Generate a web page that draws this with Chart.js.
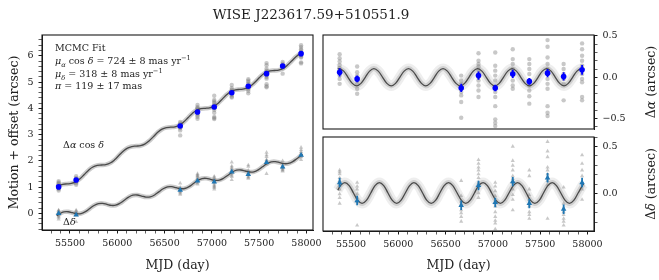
<!DOCTYPE html>
<html>
<head>
<meta charset="utf-8">
<script src="https://cdn.jsdelivr.net/npm/chart.js@4.4.0/dist/chart.umd.min.js"></script>
<style>
  html, body { margin: 0; padding: 0; background: #fff; }
  #wrap { position: relative; width: 659px; height: 280px; overflow: hidden;
          font-family: "DejaVu Serif", serif; color: #222; }
  canvas { position: absolute; left: 0; top: 0; }
  .txt { position: absolute; white-space: nowrap; line-height: 1; }
  .note { position: absolute; left: 55px; top: 42px; font-size: 9.5px; line-height: 12.8px; white-space: nowrap; }
  sub, sup { font-size: 70%; line-height: 0; }
  .rot { transform: translate(-50%, -50%) rotate(-90deg); font-size: 12.5px; }
</style>
</head>
<body>
<div id="wrap">
  <canvas id="motion" width="659" height="280"></canvas>
  <canvas id="resRa" width="659" height="280"></canvas>
  <canvas id="resDec" width="659" height="280"></canvas>

  <div class="txt" style="left:311px; top:8px; transform:translateX(-50%); font-size:13.5px;">WISE J223617.59+510551.9</div>
  <div class="note">
    MCMC Fit<br>
    <i>μ</i><sub><i>α</i></sub> cos <i>δ</i> = 724 ± 8 mas yr<sup>−1</sup><br>
    <i>μ</i><sub><i>δ</i></sub> = 318 ± 8 mas yr<sup>−1</sup><br>
    <i>π</i> = 119 ± 17 mas
  </div>
  <div class="txt" style="left:63px; top:140px; font-size:9.5px;">Δ<i>α</i> cos <i>δ</i></div>
  <div class="txt" style="left:63px; top:217px; font-size:9.5px;">Δ<i>δ</i></div>
  <div class="txt rot" style="left:651px; top:82px;">Δ<i>α</i> (arcsec)</div>
  <div class="txt rot" style="left:651px; top:184px;">Δ<i>δ</i> (arcsec)</div>
</div>

<script>
// visit epochs (MJD)
const epochs = [55380, 55565, 56665, 56848, 57025, 57210, 57385, 57578, 57748, 57943];

// mean position per visit, left panel (arcsec)
const raMotion  = [1.01, 1.27, 3.33, 3.86, 4.05, 4.59, 4.84, 5.32, 5.61, 6.08];
const decMotion = [0.00, -0.06, 0.89, 1.24, 1.20, 1.58, 1.49, 1.94, 1.77, 2.22];

// mean residual per visit after proper motion, right panels (arcsec)
const raResid  = [0.06, -0.02, -0.13, 0.02, -0.13, 0.04, -0.05, 0.05, 0.01, 0.09];
const decResid = [0.12, -0.07, -0.12, 0.09, -0.09, 0.13, -0.10, 0.17, -0.16, 0.12];
const raErr  = [0.05, 0.04, 0.05, 0.05, 0.04, 0.05, 0.04, 0.05, 0.05, 0.06];
const decErr = [0.05, 0.05, 0.05, 0.05, 0.05, 0.05, 0.05, 0.05, 0.05, 0.05];

// single exposures, residuals per visit
const raSingle = [
  [0.28, 0.23, 0.19, 0.15, 0.11, 0.08, 0.05, 0.02, -0.02, -0.08],
  [0.13, 0.06, 0.02, -0.04, -0.08, -0.14, -0.20],
  [0.02, -0.04, -0.08, -0.14, -0.18, -0.22, -0.30, -0.49],
  [0.29, 0.20, 0.16, 0.13, 0.09, 0.05, 0.00, -0.04, -0.10, -0.16, -0.24],
  [0.30, 0.14, 0.08, 0.02, -0.04, -0.12, -0.18, -0.24, -0.35, -0.51, -0.55, -0.59],
  [0.34, 0.22, 0.16, 0.10, 0.06, 0.02, -0.04, -0.10, -0.14],
  [0.22, 0.16, 0.10, 0.04, -0.04, -0.10, -0.16, -0.23, -0.32],
  [0.45, 0.37, 0.24, 0.16, 0.10, 0.06, -0.02, -0.08, -0.14, -0.35, -0.43, -0.47],
  [0.16, 0.10, 0.04, -0.02, -0.08, -0.28],
  [0.41, 0.34, 0.26, 0.20, 0.14, 0.09, 0.04, -0.02, -0.06, -0.24, -0.28]
];
const decSingle = [
  [0.25, 0.23, 0.21, 0.17, 0.14, 0.09, 0.05, 0.00, -0.04, -0.10],
  [0.12, 0.08, 0.05, 0.00, -0.04, -0.08, -0.33],
  [0.14, -0.02, -0.08, -0.11, -0.17, -0.20, -0.24, -0.29],
  [0.36, 0.32, 0.28, 0.25, 0.21, 0.17, 0.12, 0.07, 0.01, -0.04],
  [0.12, 0.08, 0.03, -0.02, -0.08, -0.13, -0.19, -0.24, -0.28, -0.31, -0.37],
  [0.50, 0.35, 0.30, 0.25, 0.19, 0.16, 0.12, 0.05, -0.01, -0.06, -0.17],
  [0.25, 0.19, 0.05, -0.01, -0.06, -0.13, -0.19, -0.22, -0.26],
  [0.55, 0.45, 0.39, 0.28, 0.25, 0.21, 0.17, 0.14, 0.10, -0.26],
  [0.07, -0.10, -0.15, -0.19, -0.22, -0.26, -0.29, -0.33],
  [0.41, 0.32, 0.25, 0.19, 0.12, 0.05, -0.06]
];

// best fit curve
const fitDaysRa = [55360, 55377, 55423, 55468, 55514, 55560, 55605, 55651, 55697, 55742, 55788, 55834,
  55879, 55925, 55971, 56016, 56062, 56108, 56153, 56199, 56245, 56290, 56336, 56382, 56427, 56473,
  56519, 56564, 56610, 56656, 56701, 56747, 56793, 56838, 56884, 56930, 56975, 57021, 57067, 57112,
  57158, 57203, 57249, 57295, 57341, 57386, 57432, 57478, 57523, 57569, 57615, 57660, 57706, 57752,
  57797, 57843, 57889, 57934, 57955];
const fitRaMotion = [1.011, 1.049, 1.108, 1.124, 1.140, 1.199, 1.319, 1.483, 1.647, 1.768, 1.827, 1.843,
  1.859, 1.918, 2.039, 2.203, 2.367, 2.487, 2.546, 2.562, 2.578, 2.637, 2.758, 2.922, 3.086, 3.207,
  3.266, 3.282, 3.297, 3.356, 3.477, 3.641, 3.805, 3.926, 3.985, 4.001, 4.017, 4.075, 4.196, 4.360,
  4.524, 4.645, 4.704, 4.720, 4.736, 4.795, 4.916, 5.079, 5.243, 5.364, 5.423, 5.439, 5.455, 5.514,
  5.635, 5.799, 5.963, 6.083, 6.116];
const fitRaResid = [0.100, 0.105, 0.074, 0.000, -0.074, -0.105, -0.074, 0.000, 0.074, 0.105, 0.074, 0.000,
  -0.074, -0.105, -0.074, 0.000, 0.074, 0.105, 0.074, 0.000, -0.074, -0.105, -0.074, 0.000, 0.074, 0.105,
  0.074, 0.000, -0.074, -0.105, -0.074, 0.000, 0.074, 0.105, 0.074, 0.000, -0.074, -0.105, -0.074, 0.000,
  0.074, 0.105, 0.074, 0.000, -0.074, -0.105, -0.074, 0.000, 0.074, 0.105, 0.074, 0.000, -0.074, -0.105,
  -0.074, 0.000, 0.074, 0.105, 0.098];

const fitDaysDec = [55360, 55389, 55435, 55481, 55526, 55572, 55617, 55663, 55709, 55754, 55800, 55846,
  55891, 55937, 55983, 56028, 56074, 56120, 56165, 56211, 56257, 56302, 56348, 56394, 56439, 56485,
  56531, 56576, 56622, 56668, 56713, 56759, 56805, 56850, 56896, 56942, 56987, 57033, 57079, 57124,
  57170, 57216, 57261, 57307, 57353, 57398, 57444, 57490, 57535, 57581, 57627, 57672, 57718, 57764,
  57809, 57855, 57901, 57946, 57960];
const fitDecMotion = [-0.087, -0.014, 0.058, 0.065, 0.027, -0.011, -0.003, 0.068, 0.186, 0.304, 0.375, 0.383,
  0.345, 0.306, 0.314, 0.386, 0.504, 0.621, 0.693, 0.701, 0.662, 0.624, 0.632, 0.703, 0.821, 0.939,
  1.011, 1.018, 0.980, 0.942, 0.949, 1.021, 1.139, 1.256, 1.328, 1.336, 1.298, 1.259, 1.267, 1.339,
  1.456, 1.574, 1.646, 1.653, 1.615, 1.577, 1.585, 1.656, 1.774, 1.892, 1.963, 1.971, 1.933, 1.894,
  1.902, 1.974, 2.092, 2.209, 2.236];
const fitDecResid = [0.040, 0.088, 0.120, 0.088, 0.010, -0.068, -0.100, -0.068, 0.010, 0.088, 0.120, 0.088,
  0.010, -0.068, -0.100, -0.068, 0.010, 0.088, 0.120, 0.088, 0.010, -0.068, -0.100, -0.068, 0.010, 0.088,
  0.120, 0.088, 0.010, -0.068, -0.100, -0.068, 0.010, 0.088, 0.120, 0.088, 0.010, -0.068, -0.100, -0.068,
  0.010, 0.088, 0.120, 0.088, 0.010, -0.068, -0.100, -0.068, 0.010, 0.088, 0.120, 0.088, 0.010, -0.068,
  -0.100, -0.068, 0.010, 0.088, 0.104];

// axis ranges
const mjdMin = 55204, mjdMax = 58069;
const motionMin = -0.63, motionMax = 6.79;
const raMin = -0.627, raMax = 0.512;
const decMin = -0.39, decMax = 0.60;

Chart.defaults.font.family = '"DejaVu Serif", serif';
Chart.defaults.color = '#222';

const INK = '#1a1a1a';
const GREY = 'rgba(125,125,125,0.42)';
const RA_BLUE = '#0000ff';
const DEC_BLUE = '#1f77b4';

// helpers ---------------------------------------------------------
function pairs(xs, ys) {
  return xs.map((x, i) => ({ x: x, y: ys[i] }));
}
// single exposures, optionally moved by the per visit shift (left panel)
function singles(table, shift) {
  const out = [];
  epochs.forEach((t, i) => {
    table[i].forEach(v => out.push({ x: t, y: v + (shift ? shift[i] : 0) }));
  });
  return out;
}
function errorBars(vals, errs) {
  const out = [];
  epochs.forEach((t, i) => {
    out.push({ x: t, y: vals[i] - errs[i] }, { x: t, y: vals[i] + errs[i] }, { x: t, y: null });
  });
  return out;
}
function curveSets(data, wide) {
  // soft grey band of posterior draws + dark best fit line
  const sets = [];
  if (wide) {
    sets.push({ type: 'line', data, pointRadius: 0, borderColor: 'rgba(150,150,150,0.16)', borderWidth: 10, tension: 0.4 });
    sets.push({ type: 'line', data, pointRadius: 0, borderColor: 'rgba(130,130,130,0.28)', borderWidth: 5, tension: 0.4 });
  } else {
    sets.push({ type: 'line', data, pointRadius: 0, borderColor: 'rgba(140,140,140,0.45)', borderWidth: 4.5, tension: 0.4 });
  }
  sets.push({ type: 'line', data, pointRadius: 0, borderColor: 'rgba(60,60,60,0.9)', borderWidth: 1.3, tension: 0.4 });
  return sets.reverse();
}
function markers(data, color, style, r) {
  return { data, showLine: false, pointStyle: style, pointRadius: r,
           pointBackgroundColor: color, pointBorderWidth: 0 };
}

const isWhole = (v, step) => Math.abs(v / step - Math.round(v / step)) < 1e-6;
const fmt1 = v => (v < -1e-9 ? '\u2212' : '') + Math.abs(v).toFixed(1);

function xAxis(show, height) {
  const ax = {
    type: 'linear', min: mjdMin, max: mjdMax, display: show,
    ticks: { stepSize: 100, includeBounds: false, autoSkip: false, maxRotation: 0, padding: 4,
             font: { size: 9.5 }, color: '#222',
             callback: v => (v % 500 === 0 ? String(v) : '') },
    grid: { drawOnChartArea: false, tickLength: 3.5, tickColor: INK,
            tickWidth: c => (c.tick && c.tick.value % 500 === 0 ? 1 : 0.7) },
    border: { color: INK, width: 1 },
    title: { display: true, text: 'MJD (day)', font: { size: 12.5 }, color: '#222', padding: { top: 0, bottom: 7 } }
  };
  if (height) ax.afterFit = s => { s.height = height; };
  return ax;
}
function yAxis(min, max, minor, major, side, width, labelFmt) {
  return {
    type: 'linear', min, max, position: side,
    afterFit: s => { s.width = width; },
    ticks: { stepSize: minor, includeBounds: false, autoSkip: false, padding: 5,
             font: { size: 9.5 }, color: '#222',
             callback: v => (isWhole(v, major) ? labelFmt(v) : '') },
    grid: { drawOnChartArea: false, tickLength: 3.5, tickColor: INK,
            tickWidth: c => (c.tick && isWhole(c.tick.value, major) ? 1 : 0.7) },
    border: { color: INK, width: 1 }
  };
}

const frame = {
  id: 'frame',
  afterDraw(chart) {
    const a = chart.chartArea, c = chart.ctx;
    c.save();
    c.strokeStyle = INK;
    c.lineWidth = 1.1;
    c.strokeRect(a.left, a.top, a.right - a.left, a.bottom - a.top);
    c.restore();
  }
};

function makeChart(id, datasets, scales, padding) {
  return new Chart(document.getElementById(id), {
    type: 'scatter',
    data: { datasets },
    options: {
      responsive: false, animation: false, events: [],
      layout: { padding },
      plugins: { legend: { display: false }, tooltip: { enabled: false } },
      scales
    },
    plugins: [frame]
  });
}

// shift that takes a residual back to the motion panel
const raShift = raMotion.map((v, i) => v - raResid[i]);
const decShift = decMotion.map((v, i) => v - decResid[i]);

// left panel: motion + offset
const leftY = yAxis(motionMin, motionMax, 0.2, 1, 'left', 42, v => String(Math.round(v)));
leftY.title = { display: true, text: 'Motion + offset (arcsec)', font: { size: 12.5 }, color: '#222', padding: { top: 7, bottom: 0 } };
makeChart('motion', [
  markers(pairs(epochs, raMotion), RA_BLUE, 'circle', 2.8),
  markers(pairs(epochs, decMotion), DEC_BLUE, 'triangle', 3.2),
  ...curveSets(pairs(fitDaysRa, fitRaMotion), false),
  ...curveSets(pairs(fitDaysDec, fitDecMotion), false),
  markers(singles(raSingle, raShift), GREY, 'circle', 2.2),
  markers(singles(decSingle, decShift), GREY, 'triangle', 2.4)
], { x: xAxis(true, 50), y: leftY }, { left: 0, top: 35, right: 346, bottom: 0 });

// top right: RA residuals
makeChart('resRa', [
  markers(pairs(epochs, raResid), RA_BLUE, 'circle', 2.8),
  { type: 'line', data: errorBars(raResid, raErr), spanGaps: false, pointRadius: 0, borderColor: RA_BLUE, borderWidth: 1.8, tension: 0 },
  ...curveSets(pairs(fitDaysRa, fitRaResid), true),
  markers(singles(raSingle), GREY, 'circle', 2.2)
], { x: xAxis(false), y: yAxis(raMin, raMax, 0.1, 0.5, 'right', 40, fmt1) },
   { left: 323, top: 35, right: 25, bottom: 151 });

// bottom right: Dec residuals
makeChart('resDec', [
  markers(pairs(epochs, decResid), DEC_BLUE, 'triangle', 3.2),
  { type: 'line', data: errorBars(decResid, decErr), spanGaps: false, pointRadius: 0, borderColor: DEC_BLUE, borderWidth: 1.8, tension: 0 },
  ...curveSets(pairs(fitDaysDec, fitDecResid), true),
  markers(singles(decSingle), GREY, 'triangle', 2.4)
], { x: xAxis(true, 49), y: yAxis(decMin, decMax, 0.1, 0.5, 'right', 40, fmt1) },
   { left: 323, top: 137, right: 25, bottom: 0 });
</script>
</body>
</html>
